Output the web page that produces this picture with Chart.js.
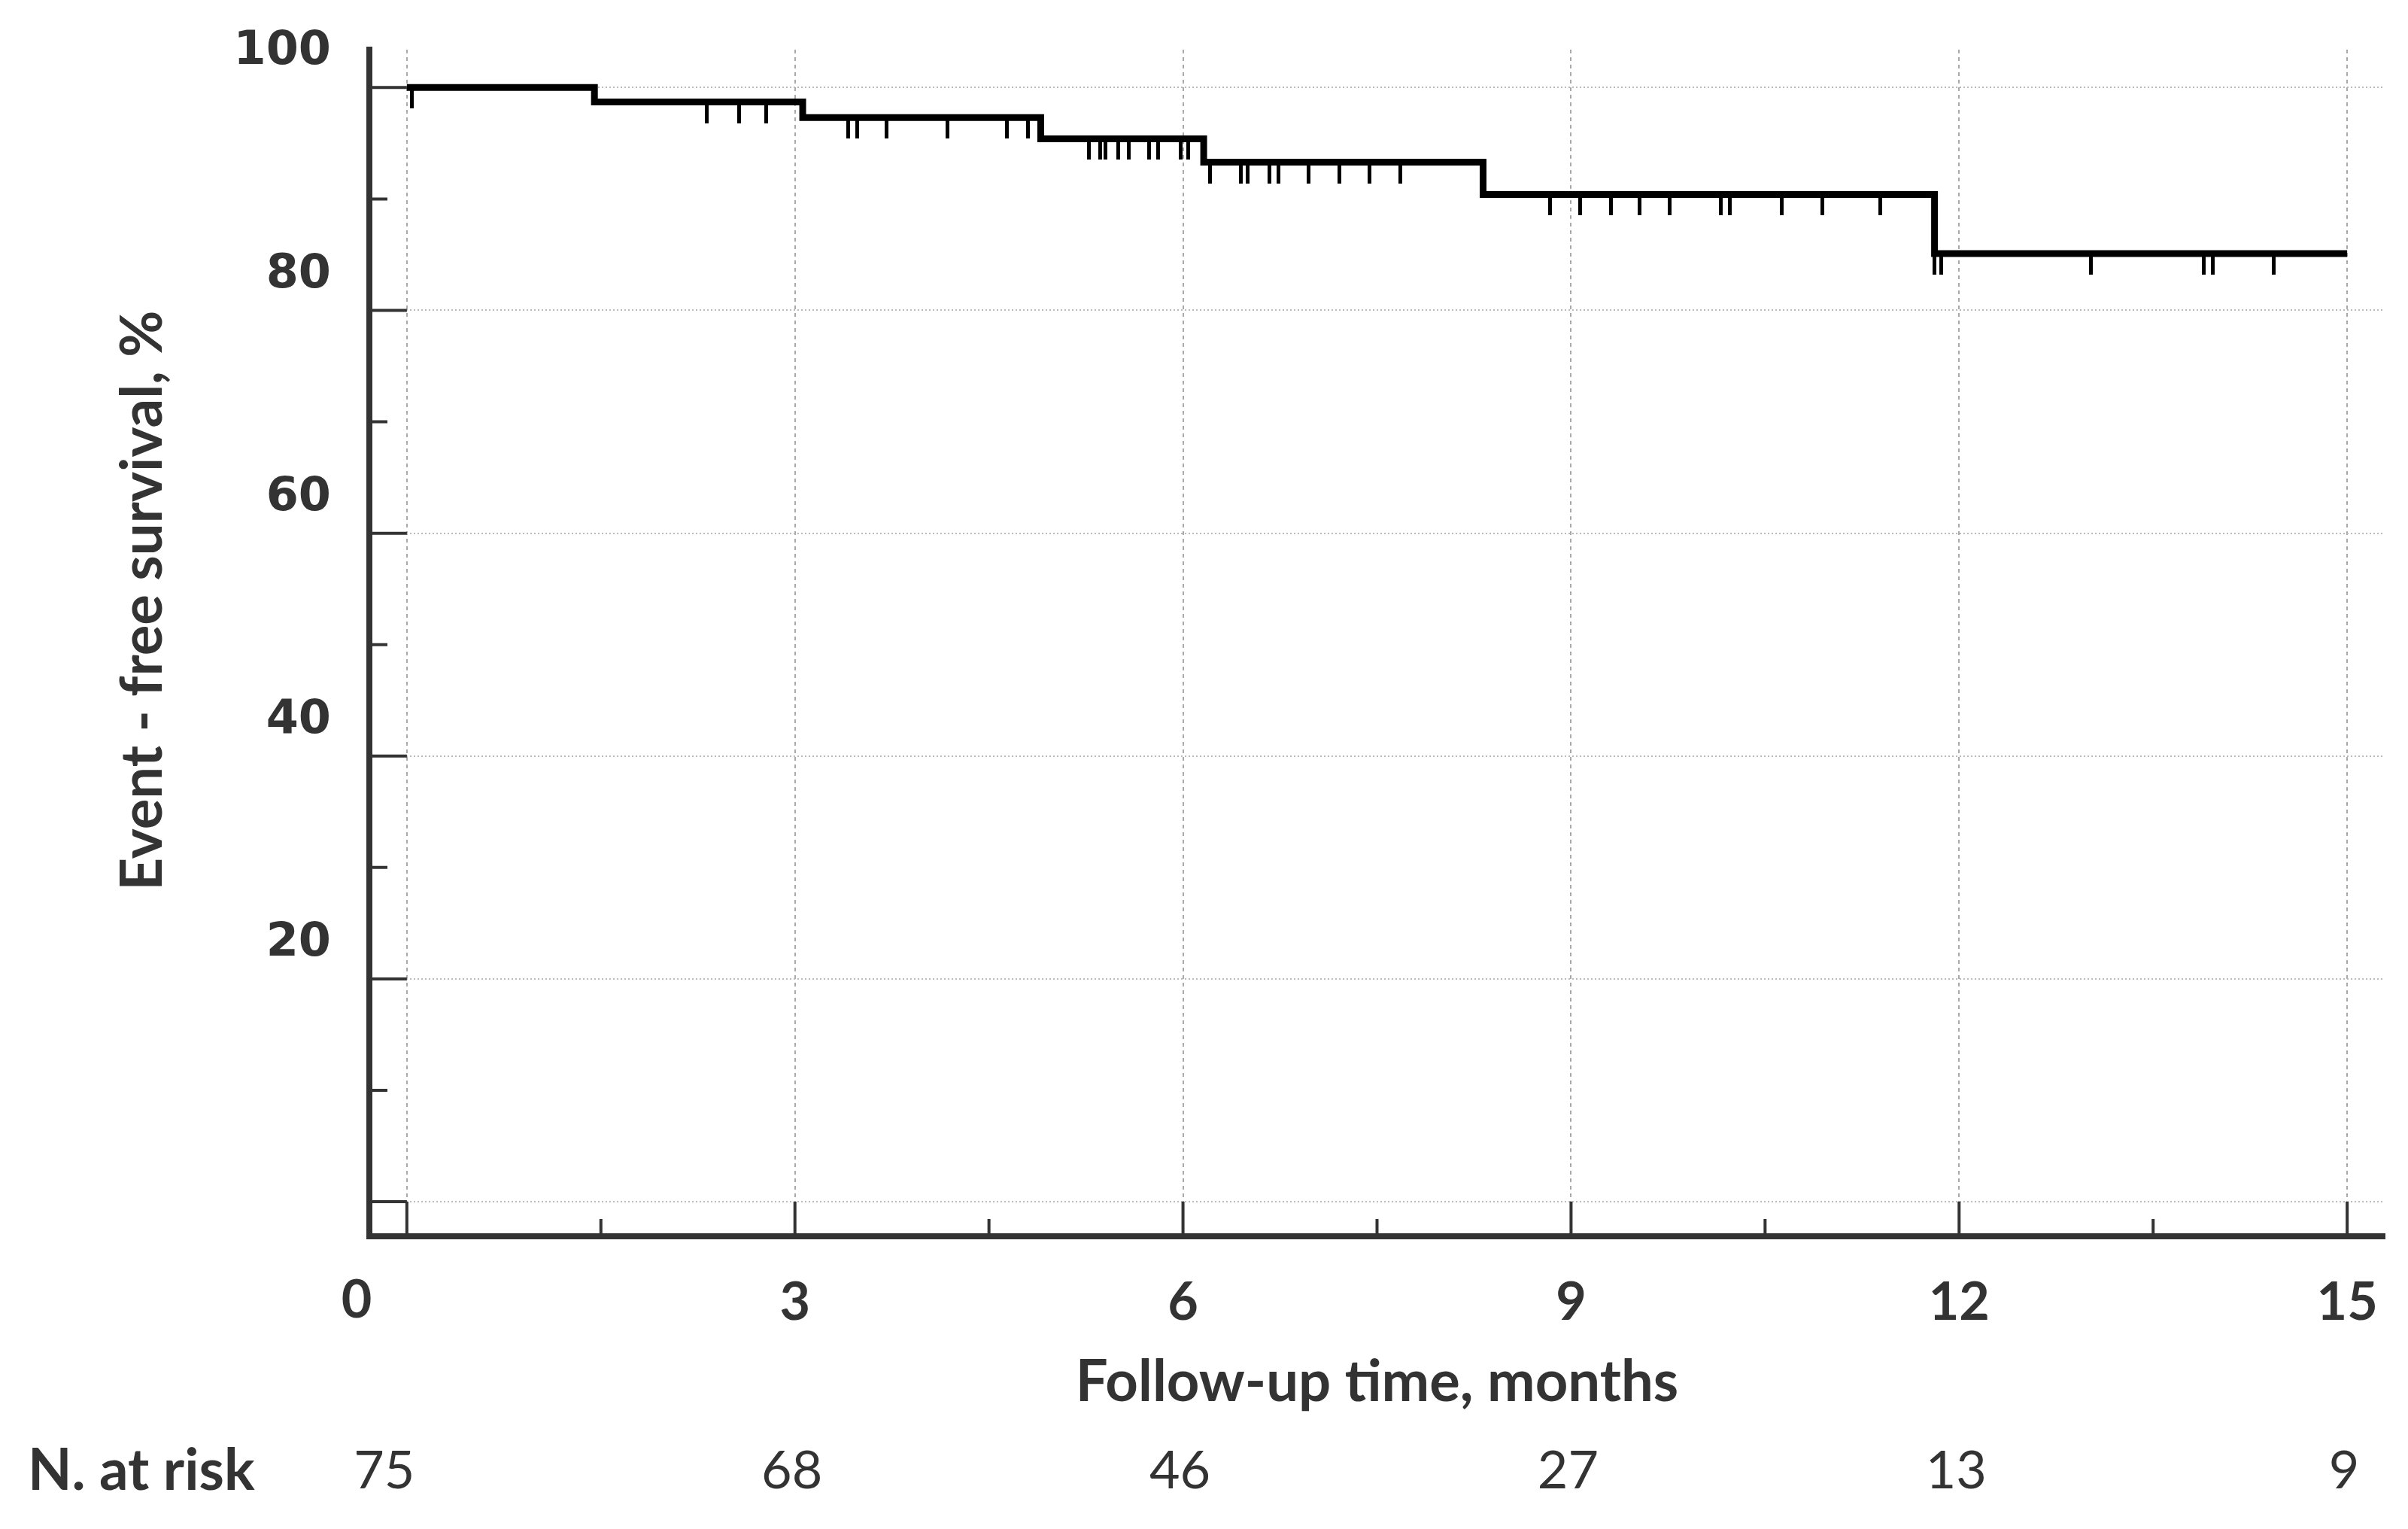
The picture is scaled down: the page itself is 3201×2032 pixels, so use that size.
<!DOCTYPE html>
<html>
<head>
<meta charset="utf-8">
<title>Event-free survival</title>
<script src="https://cdn.jsdelivr.net/npm/chart.js@4.4.1/dist/chart.umd.min.js"></script>
<style>
  html, body { margin: 0; padding: 0; background: #fff; }
  #wrap { position: relative; width: 3201px; height: 2032px; }
</style>
</head>
<body>
<div id="wrap"><canvas id="km"></canvas></div>
<script>
// Kaplan-Meier steps: time of event (months) and survival after it (%)
const eventTimes = [0, 1.45, 3.06, 4.9, 6.16, 8.32, 11.81, 15]
const survival = [100, 98.7, 97.3, 95.4, 93.3, 90.4, 85.1, 85.1]
// censored patients (months)
const censorTimes = [0.04, 2.32, 2.57, 2.78, 3.41, 3.48, 3.71, 4.18, 4.64, 4.8,
  5.27, 5.36, 5.4, 5.5, 5.58, 5.74, 5.81, 5.98, 6.04,
  6.21, 6.45, 6.5, 6.67, 6.74, 6.97, 7.21, 7.44, 7.68,
  8.84, 9.07, 9.31, 9.53, 9.76, 10.16, 10.23, 10.63, 10.94, 11.39,
  11.81, 11.86, 13.02, 13.89, 13.96, 14.43]
const xTicks = [0, 3, 6, 9, 12, 15]
const xMinorTicks = [1.5, 4.5, 7.5, 10.5, 13.5]
const yTicks = [0, 20, 40, 60, 80, 100]
const yMinorTicks = [10, 30, 50, 70, 90]
const riskTimes = [0, 3, 6, 9, 12, 15]
const atRisk = [75, 68, 46, 27, 13, 9]

const ink = "#333"

function survivalAt(t) {
  let s = survival[0]
  eventTimes.forEach((et, i) => { if (t >= et) s = survival[i] })
  return s
}

// censor mark hangs below the curve, so only the lower half is filled
const censorMark = document.createElement("canvas")
censorMark.width = 5
censorMark.height = 56
const cm = censorMark.getContext("2d")
cm.fillStyle = "#000"
cm.fillRect(0, 28, 5, 28)

const extras = {
  id: "extras",
  beforeDatasetsDraw(chart) {
    const { ctx, scales: { x, y } } = chart
    const x0 = x.getPixelForValue(0)
    const y0 = y.getPixelForValue(0)
    ctx.save()
    ctx.strokeStyle = ink
    ctx.lineWidth = 4
    ctx.beginPath()
    yTicks.forEach((v) => { const p = y.getPixelForValue(v); ctx.moveTo(x.left, p); ctx.lineTo(x0, p) })
    yMinorTicks.forEach((v) => { const p = y.getPixelForValue(v); ctx.moveTo(x.left, p); ctx.lineTo(x.left + 24, p) })
    xTicks.forEach((v) => { const p = x.getPixelForValue(v); ctx.moveTo(p, y.bottom); ctx.lineTo(p, y0) })
    xMinorTicks.forEach((v) => { const p = x.getPixelForValue(v); ctx.moveTo(p, y.bottom); ctx.lineTo(p, y.bottom - 23) })
    ctx.stroke()
    ctx.restore()
  },
  afterDraw(chart) {
    const { ctx, scales: { x } } = chart
    ctx.save()
    ctx.fillStyle = ink
    ctx.textBaseline = "middle"
    ctx.textAlign = "center"
    // origin label sits at the corner
    ctx.font = "bold 70px Lato"
    ctx.fillText("0", x.left - 17, 1728)
    // y title
    ctx.save()
    ctx.translate(190, 798)
    ctx.rotate(-Math.PI / 2)
    ctx.font = "bold 76px Lato"
    ctx.fillText("Event - free survival, %", 0, 0)
    ctx.restore()
    // numbers at risk
    ctx.textAlign = "left"
    ctx.font = "bold 76px Lato"
    ctx.fillText("N. at risk", 37, 1955)
    ctx.textAlign = "center"
    ctx.font = "70px Lato"
    atRisk.forEach((n, i) => {
      const shift = i === 0 ? -30 : -4
      ctx.fillText(String(n), x.getPixelForValue(riskTimes[i]) + shift, 1955)
    })
    ctx.restore()
  }
}

new Chart(document.getElementById("km"), {
  type: "scatter",
  data: {
    datasets: [
      {
        data: eventTimes.map((t, i) => ({ x: t, y: survival[i] })),
        showLine: true,
        stepped: "before",
        borderColor: "#000",
        borderWidth: 9,
        pointRadius: 0,
        fill: false,
      },
      {
        data: censorTimes.map((t) => ({ x: t, y: survivalAt(t) })),
        showLine: false,
        pointStyle: censorMark,
        pointRadius: 3,
      },
    ],
  },
  options: {
    responsive: true,
    maintainAspectRatio: false,
    animation: false,
    layout: { padding: { top: 66, right: 31, left: 0, bottom: 0 } },
    plugins: { legend: { display: false }, tooltip: { enabled: false } },
    scales: {
      x: {
        type: "linear",
        min: -0.29,
        max: 15.29,
        afterBuildTicks: (s) => { s.ticks = xTicks.map((v) => ({ value: v })) },
        afterFit: (s) => {
          s.height = 389
          s.paddingLeft = 0
          s.paddingRight = 0
        },
        grid: { color: "#aaa", lineWidth: 2, drawTicks: false },
        border: { color: ink, width: 8, dash: [5, 5] },
        ticks: {
          padding: 46,
          color: ink,
          font: { family: "Lato", weight: "bold", size: 70 },
          callback: (v) => (v === 0 ? "" : v),
        },
        title: {
          display: true,
          text: "Follow-up time, months",
          color: ink,
          font: { family: "Lato", weight: "bold", size: 76 },
          padding: { top: 0, bottom: 149 },
        },
      },
      y: {
        min: -3.1,
        max: 103.4,
        afterBuildTicks: (s) => { s.ticks = yTicks.map((v) => ({ value: v })) },
        afterFit: (s) => {
          s.width = 491
          s.paddingTop = 0
          s.paddingBottom = 0
        },
        grid: { color: "#bbb", lineWidth: 2, drawTicks: false },
        border: { color: ink, width: 8, dash: [2, 3] },
        ticks: {
          padding: 51,
          labelOffset: -47,
          color: ink,
          font: { family: "DejaVu Sans", weight: "bold", size: 62 },
          callback: (v) => (v === 0 ? "" : v),
        },
      },
    },
  },
  plugins: [extras],
})
</script>
</body>
</html>
